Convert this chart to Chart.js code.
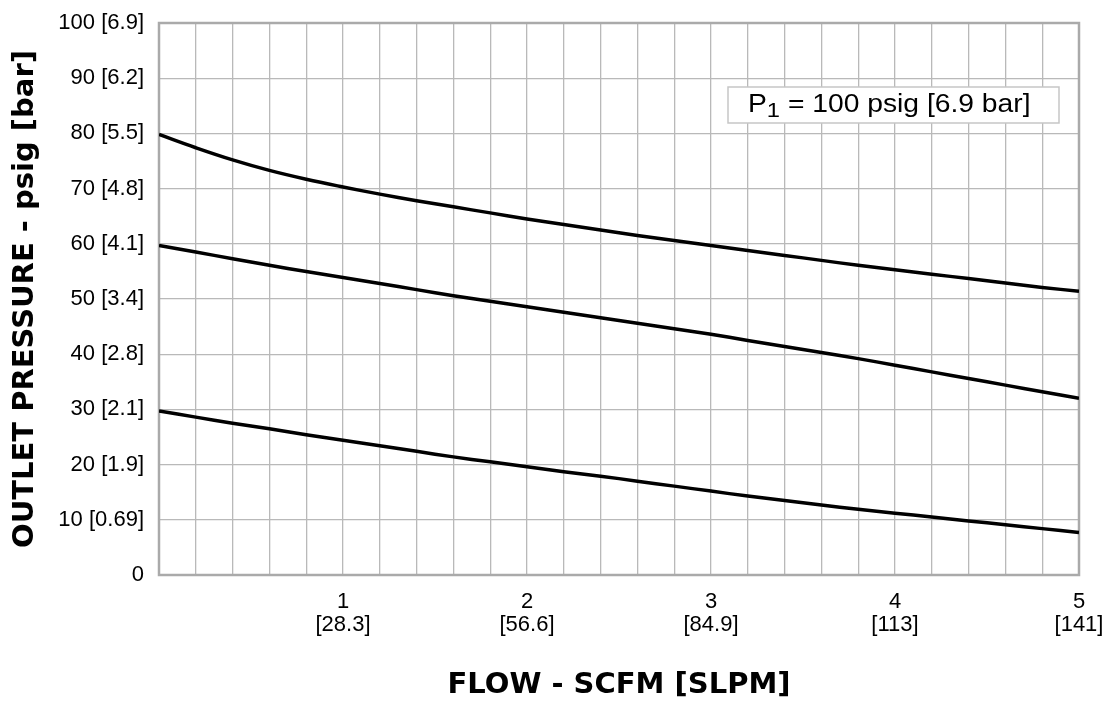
<!DOCTYPE html>
<html>
<head>
<meta charset="utf-8">
<script src="https://cdn.jsdelivr.net/npm/chart.js@4"></script>
<style>
    html, body { margin: 0; padding: 0; background: #ffffff; }
    #wrap { width: 1109px; height: 704px; }
</style>
</head>
<body>
<div id="wrap"><canvas id="flowChart" width="1109" height="704"></canvas></div>
<script>
// Datos (flujo en SCFM, presion en psig)
const flowScfm = [0, 0.2, 0.4, 0.6, 0.8, 1.0, 1.2, 1.4, 1.6, 1.8, 2.0, 2.2, 2.4,
                  2.6, 2.8, 3.0, 3.2, 3.4, 3.6, 3.8, 4.0, 4.2, 4.4, 4.6, 4.8, 5.0];
const curva80 = [79.8, 77.4, 75.2, 73.3, 71.7, 70.3, 69.0, 67.8, 66.7, 65.6, 64.5, 63.5, 62.5,
                 61.5, 60.6, 59.7, 58.8, 57.9, 57.0, 56.1, 55.3, 54.5, 53.7, 52.9, 52.1, 51.4];
const curva60 = [59.7, 58.5, 57.3, 56.1, 55.0, 53.9, 52.8, 51.7, 50.6, 49.6, 48.6, 47.6, 46.6,
                 45.6, 44.6, 43.6, 42.5, 41.4, 40.3, 39.2, 38.0, 36.8, 35.6, 34.4, 33.2, 32.0];
const curva30 = [29.7, 28.6, 27.5, 26.5, 25.4, 24.4, 23.4, 22.4, 21.4, 20.5, 19.6, 18.7, 17.9,
                 17.0, 16.1, 15.2, 14.3, 13.5, 12.7, 11.9, 11.2, 10.5, 9.8, 9.1, 8.4, 7.7];

// Etiquetas de los ejes
const yTickLabels = ['0', '10 [0.69]', '20 [1.9]', '30 [2.1]', '40 [2.8]', '50 [3.4]',
                     '60 [4.1]', '70 [4.8]', '80 [5.5]', '90 [6.2]', '100 [6.9]'];
const xTickMain = ['1', '2', '3', '4', '5'];
const xTickSub = ['[28.3]', '[56.6]', '[84.9]', '[113]', '[141]'];
const leyendaTexto = ['P', '1', ' = 100 psig [6.9 bar]'];

function puntos(serie) {
    return flowScfm.map((x, i) => ({ x: x, y: serie[i] }));
}

function linea(serie) {
    return {
        data: puntos(serie),
        borderColor: '#000000',
        borderWidth: 3.5,
        pointRadius: 0,
        tension: 0.4,
        fill: false
    };
}

// Marco gris del area y caja de la leyenda
const marcoYLeyenda = {
    id: 'marcoYLeyenda',
    beforeDatasetsDraw(chart) {
        const { ctx, chartArea: a } = chart;
        ctx.save();
        ctx.strokeStyle = '#aaaaaa';
        ctx.lineWidth = 2.5;
        ctx.strokeRect(a.left, a.top, a.right - a.left, a.bottom - a.top);
        ctx.restore();
    },
    afterDatasetsDraw(chart) {
        const { ctx, chartArea: a } = chart;
        const bx = a.left + 569, by = a.top + 64;
        ctx.save();
        ctx.fillStyle = '#ffffff';
        ctx.fillRect(bx, by, 331, 36);
        ctx.strokeStyle = '#c6c6c6';
        ctx.lineWidth = 1.5;
        ctx.strokeRect(bx, by, 331, 36);

        ctx.fillStyle = '#000000';
        ctx.textBaseline = 'alphabetic';
        ctx.translate(bx + 20, by + 25);
        ctx.scale(1.13, 1);
        ctx.font = '25px "Liberation Sans", Arial, sans-serif';
        ctx.fillText(leyendaTexto[0], 0, 0);
        let w = ctx.measureText(leyendaTexto[0]).width;
        ctx.font = '21px "Liberation Sans", Arial, sans-serif';
        ctx.fillText(leyendaTexto[1], w, 5);
        w += ctx.measureText(leyendaTexto[1]).width;
        ctx.font = '25px "Liberation Sans", Arial, sans-serif';
        ctx.fillText(leyendaTexto[2], w, 0);
        ctx.restore();
    }
};

const ctx = document.getElementById('flowChart').getContext('2d');
const flowChart = new Chart(ctx, {
    type: 'line',
    data: {
        datasets: [linea(curva80), linea(curva60), linea(curva30)]
    },
    options: {
        responsive: false,
        animation: false,
        layout: { padding: { left: 0, right: 30, top: 23, bottom: 0 } },
        plugins: {
            legend: { display: false },
            tooltip: { enabled: false }
        },
        scales: {
            x: {
                type: 'linear',
                min: 0,
                max: 5,
                afterFit: (scale) => {
                    scale.height = 129;
                    scale.paddingLeft = 0;
                    scale.paddingRight = 0;
                },
                border: { display: false },
                grid: { color: '#b9b9b9', lineWidth: 1.3, drawTicks: false },
                ticks: {
                    stepSize: 0.2,
                    maxTicksLimit: 40,
                    autoSkip: false,
                    maxRotation: 0,
                    padding: 15,
                    color: '#000000',
                    font: { family: '"Liberation Sans", Arial, sans-serif', size: 22, lineHeight: 1.05 },
                    callback: (value) => {
                        const n = Math.round(value);
                        if (Math.abs(value - n) > 1e-6 || n < 1) return '';
                        return [xTickMain[n - 1], xTickSub[n - 1]];
                    }
                },
                title: {
                    display: true,
                    text: 'FLOW - SCFM [SLPM]',
                    color: '#000000',
                    font: { family: '"DejaVu Sans", sans-serif', size: 29, weight: 'bold' },
                    padding: { top: 0, bottom: 1 }
                }
            },
            y: {
                min: 0,
                max: 100,
                afterFit: (scale) => {
                    scale.width = 159;
                    scale.paddingTop = 0;
                    scale.paddingBottom = 0;
                },
                border: { display: false },
                grid: { color: '#b9b9b9', lineWidth: 1.3, drawTicks: false },
                ticks: {
                    stepSize: 10,
                    padding: 15,
                    color: '#000000',
                    font: { family: '"Liberation Sans", Arial, sans-serif', size: 22 },
                    callback: (value) => yTickLabels[Math.round(value / 10)]
                },
                title: {
                    display: true,
                    text: 'OUTLET PRESSURE - psig [bar]',
                    color: '#000000',
                    font: { family: '"DejaVu Sans", sans-serif', size: 29, weight: 'bold' },
                    padding: { top: 8, bottom: 0 }
                }
            }
        }
    },
    plugins: [marcoYLeyenda]
});
</script>
</body>
</html>
